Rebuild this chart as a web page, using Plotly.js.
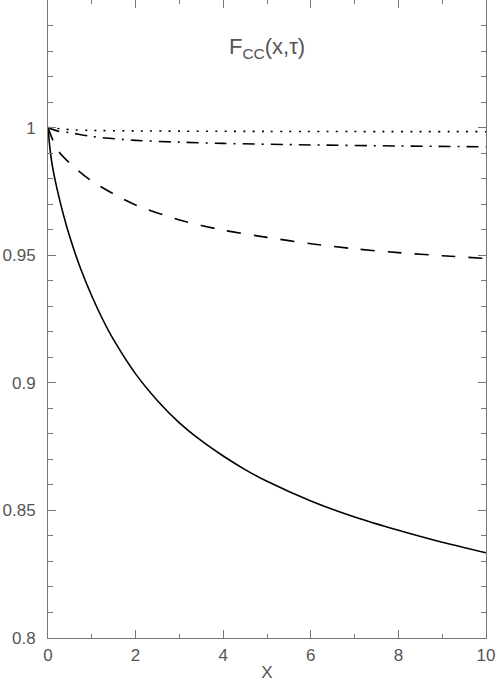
<!DOCTYPE html>
<html>
<head>
<meta charset="utf-8">
<script src="https://cdn.plot.ly/plotly-3.0.1.min.js"></script>
<style>html,body{margin:0;padding:0;background:#fff;}#plot{width:496px;height:682px;}</style>
</head>
<body>
<div id="plot"></div>
<script>
const xSolid = [0, 0.05, 0.1, 0.2, 0.35, 0.5, 0.75, 1, 1.25, 1.5, 2, 2.5, 3, 3.5, 4, 4.5, 5, 6, 7, 8, 9, 10];
const ySolid = [1, 0.991, 0.985, 0.9765, 0.966, 0.957, 0.9445, 0.934, 0.9248, 0.9168, 0.9035, 0.893, 0.8843, 0.8773, 0.8713, 0.866, 0.8614, 0.8537, 0.8474, 0.8422, 0.8375, 0.8334];

const xDashed = [0, 0.1, 0.25, 0.5, 1, 1.5, 2, 3, 4, 5, 6, 7, 8, 9, 10];
const yDashed = [1, 0.9955, 0.9905, 0.986, 0.979, 0.974, 0.9697, 0.9638, 0.9598, 0.957, 0.9545, 0.9525, 0.951, 0.9498, 0.9487];

const xDashDot = [0, 0.25, 0.5, 1, 2, 3, 4, 6, 8, 10];
const yDashDot = [1, 0.9985, 0.998, 0.9965, 0.995, 0.9943, 0.9938, 0.9932, 0.9928, 0.9925];

const xDotted = [0, 0.5, 1, 2, 5, 10];
const yDotted = [1, 0.9992, 0.9989, 0.9987, 0.9985, 0.9984];

const xTickVals = [0, 2, 4, 6, 8, 10];
const yTickVals = [0.8, 0.85, 0.9, 0.95, 1];
const yTickText = ['0.8', '0.85', '0.9', '0.95', '1'];

const traces = [
  {x: xSolid, y: ySolid, mode: 'lines', line: {color: '#000', width: 1.6, shape: 'spline', smoothing: 0.8}},
  {x: xDashed, y: yDashed, mode: 'lines', line: {color: '#000', width: 1.6, dash: '14px,13px', shape: 'spline', smoothing: 0.8}},
  {x: xDashDot, y: yDashDot, mode: 'lines', line: {color: '#000', width: 1.6, dash: '12px,7px,2px,7px', shape: 'spline', smoothing: 0.8}},
  {x: xDotted, y: yDotted, mode: 'lines', line: {color: '#000', width: 1.6, dash: '2px,7.3px', shape: 'spline', smoothing: 0.8}}
];

const tickFont = {family: 'Liberation Sans, Arial, sans-serif', size: 17, color: '#555'};
const layout = {
  width: 496, height: 682,
  margin: {l: 48, r: 10, t: 0, b: 44, pad: 0},
  paper_bgcolor: '#fff', plot_bgcolor: '#fff',
  showlegend: false,
  xaxis: {
    range: [0, 10], tickvals: xTickVals, ticktext: xTickVals.map(String),
    ticks: 'inside', ticklen: 8, tickcolor: '#777', tickwidth: 1,
    minor: {dtick: 1, ticks: 'inside', ticklen: 4, tickcolor: '#777'},
    showline: true, linecolor: '#777', linewidth: 1, mirror: 'ticks',
    showgrid: false, zeroline: false, tickfont: tickFont, ticklabelstandoff: 2,
    title: {text: 'X', font: {family: 'Liberation Sans, Arial, sans-serif', size: 17, color: '#555'}, standoff: 6}
  },
  yaxis: {
    range: [0.8, 1.05], tickvals: yTickVals, ticktext: yTickText,
    ticks: 'inside', ticklen: 8, tickcolor: '#777', tickwidth: 1,
    minor: {dtick: 0.01, tick0: 0.8, ticks: 'inside', ticklen: 5, tickcolor: '#777'},
    showline: true, linecolor: '#777', linewidth: 1, mirror: 'ticks',
    showgrid: false, zeroline: false, tickfont: tickFont, ticklabelstandoff: 8
  },
  annotations: [{
    x: 5, y: 1.031, xref: 'x', yref: 'y', showarrow: false,
    text: 'F<sub>CC</sub>(x,τ)', xanchor: 'center', yanchor: 'middle',
    font: {family: 'Liberation Sans, Arial, sans-serif', size: 22, color: '#555'}
  }]
};
Plotly.newPlot('plot', traces, layout, {staticPlot: true});
</script>
</body>
</html>
